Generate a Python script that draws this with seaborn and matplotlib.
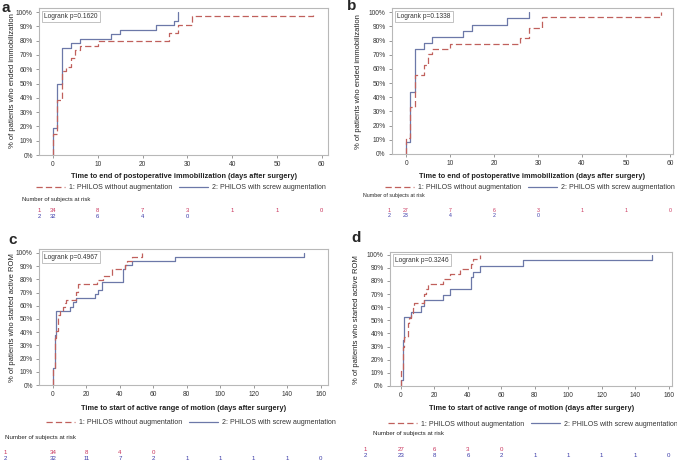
import matplotlib
matplotlib.use("Agg")
import matplotlib.pyplot as plt
import matplotlib.transforms as mtransforms
from matplotlib.lines import Line2D
import seaborn as sns
import pandas as pd

# event times (days) and cumulative % of patients
a_t1 = [0, 1, 2, 3, 4, 5, 6, 10, 26, 28, 31, 58]
a_p1 = [14.7, 38.2, 58.8, 61.8, 67.6, 73.5, 76.5, 79.4, 85.3, 91.2, 97.1, 100]
a_t2 = [0, 1, 2, 4, 6, 13, 15, 23, 27, 28]
a_p2 = [18.8, 50.0, 75.0, 78.1, 81.3, 84.4, 87.5, 90.6, 93.8, 100]

b_t1 = [0, 1, 2, 4, 5, 6, 10, 26, 28, 31, 58]
b_p1 = [11.1, 33.3, 55.6, 63.0, 70.4, 74.1, 77.8, 81.5, 88.9, 96.3, 100]
b_t2 = [0, 1, 2, 4, 6, 13, 15, 23, 28]
b_p2 = [8.7, 43.5, 73.9, 78.3, 82.6, 87.0, 91.3, 95.7, 100]

c_t1 = [0, 1, 2, 3, 4, 6, 7, 8, 14, 15, 26, 30, 35, 43, 44, 47, 53]
c_p1 = [11.8, 35.3, 41.2, 52.9, 55.9, 58.8, 61.8, 64.7, 70.6, 76.5, 79.4, 82.4, 88.2, 91.2, 94.1, 97.1, 100]
c_t2 = [0, 1, 2, 10, 12, 14, 25, 27, 29, 42, 43, 47, 73, 150]
c_p2 = [12.5, 37.5, 56.3, 59.4, 62.5, 65.6, 68.8, 71.9, 78.1, 87.5, 90.6, 93.8, 96.9, 100]

d_t1 = [0, 1, 2, 4, 5, 6, 7, 8, 14, 15, 16, 25, 29, 35, 42, 43, 47]
d_p1 = [11.1, 29.6, 37.0, 48.1, 51.9, 55.6, 59.3, 63.0, 70.4, 74.1, 77.8, 81.5, 85.2, 88.9, 92.6, 96.3, 100]
d_t2 = [0, 1, 2, 6, 12, 14, 25, 29, 42, 43, 47, 73, 150]
d_p2 = [4.3, 34.8, 52.2, 56.5, 60.9, 65.2, 69.6, 73.9, 82.6, 87.0, 91.3, 95.7, 100]

# number at risk
ab_ticks = [0, 10, 20, 30, 40, 50, 60]
cd_ticks = [0, 20, 40, 60, 80, 100, 120, 140, 160]
a_r1 = [34, 8, 7, 3, 1, 1, 0]
a_r2 = [32, 6, 4, 0]
b_r1 = [27, 7, 6, 3, 1, 1, 0]
b_r2 = [23, 4, 2, 0]
c_r1 = [34, 8, 4, 0]
c_r2 = [32, 11, 7, 2, 1, 1, 1, 1, 0]
d_r1 = [27, 6, 3, 0]
d_r2 = [23, 8, 6, 2, 1, 1, 1, 1, 0]

pvals = ["Logrank p=0.1620", "Logrank p=0.1338", "Logrank p=0.4967", "Logrank p=0.3246"]
xlab_imm = "Time to end of postoperative immobilization (days after surgery)"
xlab_rom = "Time to start of active range of motion (days after surgery)"
ylab_imm = "% of patients who ended immobilization"
ylab_rom = "% of patients who started active ROM"
grp_labels = ["1: PHILOS without augmentation", "2: PHILOS with screw augmentation"]

RED_LINE = "#c0605c"
BLUE_LINE = "#6c78a8"
RED_TXT = "#c8325a"
BLUE_TXT = "#3a3aa8"
GRAY = "#b8b8b8"

sns.set_theme(style="white")
plt.rcParams['font.family'] = ['Liberation Sans', 'DejaVu Sans']

W, H = 677, 467
fig = plt.figure(figsize=(W / 100, H / 100), dpi=100)


def fx(px):
    return px / W


def fy(py):
    return 1 - py / H


def steps(t, p):
    # start the curve at 0% at day 0
    return pd.DataFrame({"t": [0] + list(t), "p": [0] + list(p)})


def panel(box, xlim, ylim_top, ticks, t1, p1, t2, p2, r1, r2, pval,
          xlab, ylab, letter, txt):
    x0, y0, x1, y1 = box
    ax = fig.add_axes([fx(x0), fy(y1), fx(x1 - x0), (y1 - y0) / H])
    d1 = steps(t1, p1)
    d2 = steps(t2, p2)
    sns.lineplot(data=d2, x="t", y="p", ax=ax, estimator=None, sort=False,
                 drawstyle="steps-post", color=BLUE_LINE, lw=0.9)
    sns.lineplot(data=d1, x="t", y="p", ax=ax, estimator=None, sort=False,
                 drawstyle="steps-post", color=RED_LINE, lw=0.9,
                 linestyle=(0, (5, 2.5)))
    ax.set_xlim(*xlim)
    ax.set_ylim(0, ylim_top)
    ax.set_xticks(ticks)
    ax.set_yticks(range(0, 101, 10))
    ax.set_yticklabels([f"{v}%" for v in range(0, 101, 10)])
    ax.set_xlabel("")
    ax.set_ylabel("")
    for s in ax.spines.values():
        s.set_color(GRAY)
        s.set_linewidth(0.8)
    ax.tick_params(axis="both", labelsize=4.8, length=2.5, width=0.6,
                   color="#888888", labelcolor="#333333", pad=2,
                   bottom=True, left=True)
    ax.text(0.018, 0.965, pval, transform=ax.transAxes, va="top", ha="left",
            fontsize=4.8, color="#333333",
            bbox=dict(boxstyle="square,pad=0.35", fc="white", ec=GRAY, lw=0.6))

    # texts around the panel
    fig.text(fx(txt["letter"][0]), fy(txt["letter"][1]), letter,
             fontsize=11, fontweight="bold", ha="left", va="center")
    fig.text(fx(txt["ylab"][0]), fy(txt["ylab"][1]), ylab, rotation=90,
             fontsize=5.5, ha="center", va="center", color="#222222")
    fig.text(fx(txt["xlab"][0]), fy(txt["xlab"][1]), xlab,
             fontsize=5.3, fontweight="bold", ha="center", va="center",
             color="#222222")
    handles = [Line2D([], [], color=RED_LINE, lw=0.9, linestyle=(0, (5, 2.5))),
               Line2D([], [], color=BLUE_LINE, lw=0.9)]
    fig.legend(handles, grp_labels, ncol=2, frameon=False, fontsize=5.0,
               loc="center", bbox_to_anchor=(fx(txt["leg"][0]), fy(txt["leg"][1])),
               handlelength=4.2, handletextpad=0.5, columnspacing=1.0,
               borderpad=0, labelcolor="#333333")
    fig.text(fx(txt["nrisk"][0]), fy(txt["nrisk"][1]), "Number of subjects at risk",
             fontsize=txt["fs"], ha="left", va="center", color="#222222")
    tr = mtransforms.blended_transform_factory(ax.transData, fig.transFigure)
    for row, vals, col in [(txt["rows"][0], r1, RED_TXT), (txt["rows"][1], r2, BLUE_TXT)]:
        for xv, v in zip(ticks, vals):
            ax.text(xv, fy(row), str(v), transform=tr, ha="center", va="center",
                    fontsize=txt["fs"], color=col, clip_on=False)
    fig.text(fx(txt["rowlab"]), fy(txt["rows"][0]), "1", fontsize=txt["fs"],
             color=RED_TXT, ha="center", va="center")
    fig.text(fx(txt["rowlab"]), fy(txt["rows"][1]), "2", fontsize=txt["fs"],
             color=BLUE_TXT, ha="center", va="center")
    return ax


panel((39, 8, 328, 155), (-3.1, 61.4), 102.8, ab_ticks,
      a_t1, a_p1, a_t2, a_p2, a_r1, a_r2, pvals[0], xlab_imm, ylab_imm, "a",
      dict(letter=(2, 8), ylab=(13, 81), xlab=(184, 176), leg=(181, 188),
           nrisk=(22, 199), rows=(210.5, 216.5), rowlab=39, fs=4.2))
panel((392, 8, 673, 154), (-3.2, 60.7), 103, ab_ticks,
      b_t1, b_p1, b_t2, b_p2, b_r1, b_r2, pvals[1], xlab_imm, ylab_imm, "b",
      dict(letter=(347, 6), ylab=(358, 82), xlab=(532, 176), leg=(530, 188),
           nrisk=(363, 196), rows=(210, 215.5), rowlab=389, fs=3.8))
panel((39, 249, 328, 385), (-8.4, 164.4), 103, cd_ticks,
      c_t1, c_p1, c_t2, c_p2, c_r1, c_r2, pvals[2], xlab_rom, ylab_rom, "c",
      dict(letter=(8, 240), ylab=(13, 318), xlab=(184, 409), leg=(191, 423),
           nrisk=(5, 438), rows=(452.5, 459), rowlab=5, fs=4.4))
panel((390, 252, 672, 386), (-6.6, 162), 102, cd_ticks,
      d_t1, d_p1, d_t2, d_p2, d_r1, d_r2, pvals[3], xlab_rom, ylab_rom, "d",
      dict(letter=(351, 238), ylab=(357, 320), xlab=(532, 409), leg=(533, 424),
           nrisk=(373, 434), rows=(449.5, 455.5), rowlab=365, fs=4.4))

plt.savefig("out.png", dpi=100)
plt.close()
